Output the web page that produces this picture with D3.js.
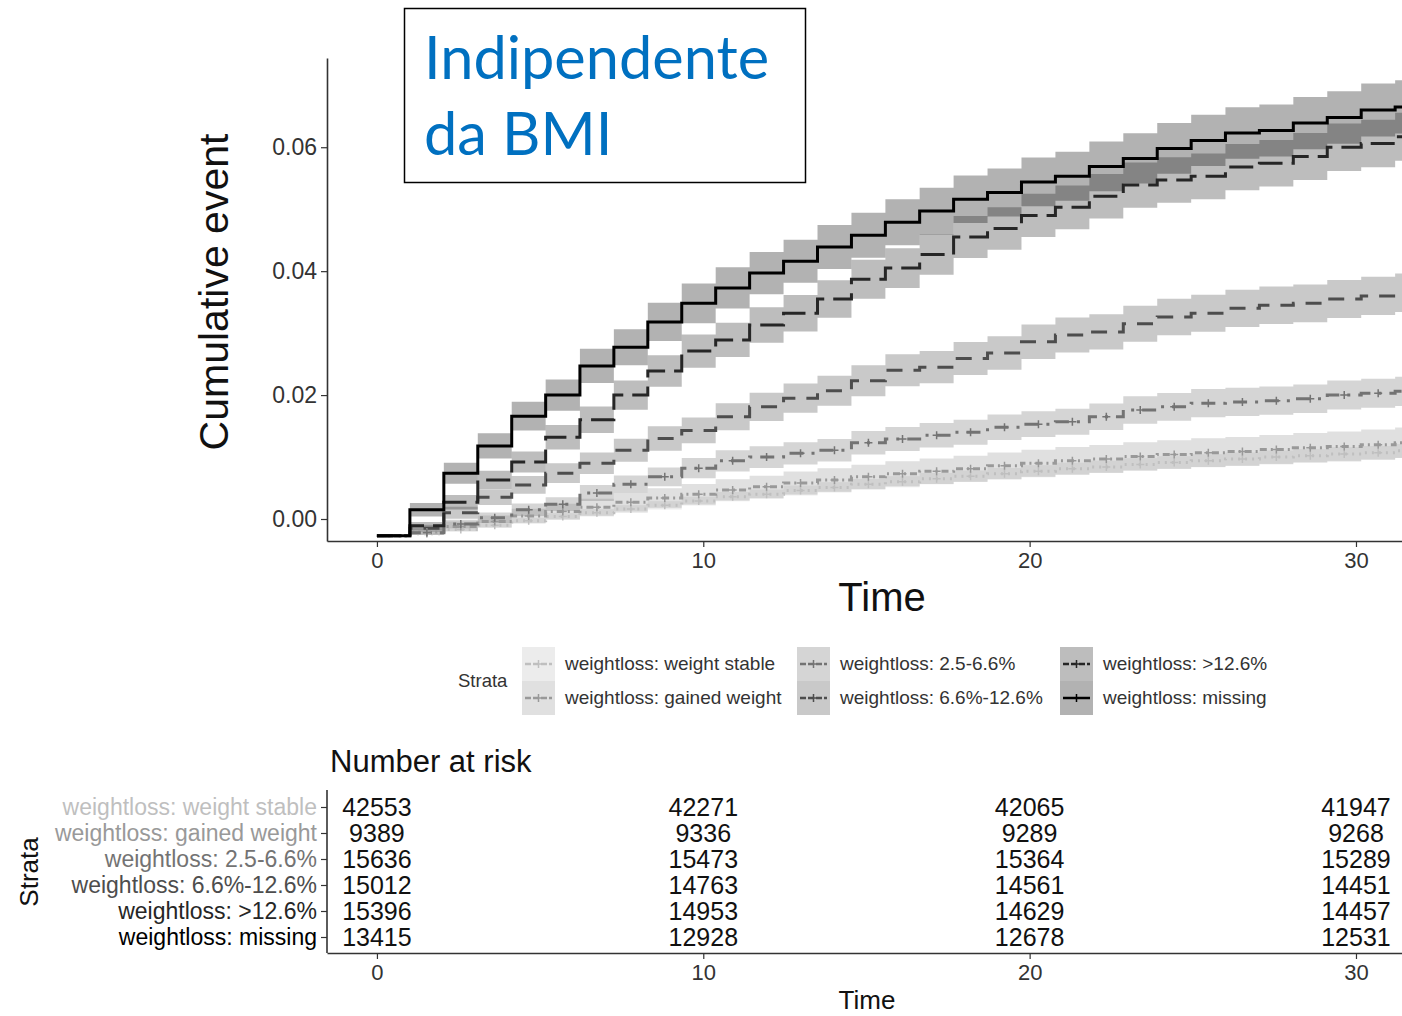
<!DOCTYPE html>
<html>
<head>
<meta charset="utf-8">
<script src="https://cdn.jsdelivr.net/npm/d3@7"></script>
<style>
  body { margin: 0; background: #fff; }
  text { font-family: "Liberation Sans", Arial, sans-serif; }
</style>
</head>
<body>
<svg id="chart" width="1402" height="1016"></svg>
<script>
// strata, in the order of the risk table
const strata = [
    "weightloss: weight stable",
    "weightloss: gained weight",
    "weightloss: 2.5-6.6%",
    "weightloss: 6.6%-12.6%",
    "weightloss: >12.6%",
    "weightloss: missing"
];

const stepTimes = [0, 1.01, 2.05, 3.09, 4.13, 5.17, 6.22, 7.26, 8.30, 9.34, 10.38, 11.42, 12.46, 13.50,
    14.54, 15.58, 16.63, 17.67, 18.71, 19.75, 20.79, 21.83, 22.87, 23.91, 24.95, 26.00, 27.04,
    28.08, 29.12, 30.16, 31.20];
const endTime = 32.5;

// cumulative event, one value per step
const stableVals = [-0.0027, -0.0024, -0.0017, -0.0010, -0.0003, 0.0004, 0.0010, 0.0016, 0.0022, 0.0029,
    0.0036, 0.0040, 0.0046, 0.0051, 0.0056, 0.0060, 0.0065, 0.0069, 0.0073, 0.0077, 0.0081, 0.0084,
    0.0088, 0.0091, 0.0094, 0.0097, 0.0100, 0.0102, 0.0105, 0.0107, 0.0110];
const gainedVals = [-0.0027, -0.0021, -0.0012, -0.0004, 0.0005, 0.0012, 0.0019, 0.0027, 0.0034, 0.0040,
    0.0047, 0.0052, 0.0058, 0.0063, 0.0068, 0.0073, 0.0077, 0.0081, 0.0086, 0.0090, 0.0094, 0.0097,
    0.0101, 0.0104, 0.0107, 0.0109, 0.0112, 0.0115, 0.0117, 0.0120, 0.0123];
const lowVals = [-0.0027, -0.0022, -0.0008, 0.0002, 0.0015, 0.0024, 0.0042, 0.0056, 0.0068, 0.0082,
    0.0094, 0.0100, 0.0106, 0.0111, 0.0123, 0.0129, 0.0135, 0.0140, 0.0148, 0.0153, 0.0157, 0.0165,
    0.0176, 0.0181, 0.0187, 0.0189, 0.0191, 0.0194, 0.0200, 0.0203, 0.0206];
const midVals = [-0.0027, -0.0015, 0.0010, 0.0035, 0.0055, 0.0074, 0.0090, 0.0111, 0.0130, 0.0143,
    0.0165, 0.0181, 0.0195, 0.0207, 0.0223, 0.0240, 0.0245, 0.0259, 0.0268, 0.0286, 0.0297, 0.0302,
    0.0315, 0.0326, 0.0332, 0.0340, 0.0345, 0.0348, 0.0355, 0.0360, 0.0365];
const highVals = [-0.0027, -0.0011, 0.0027, 0.0063, 0.0092, 0.0132, 0.0160, 0.0200, 0.0239, 0.0271,
    0.0289, 0.0313, 0.0332, 0.0355, 0.0387, 0.0405, 0.0427, 0.0455, 0.0469, 0.0490, 0.0503, 0.0521,
    0.0539, 0.0547, 0.0553, 0.0568, 0.0574, 0.0585, 0.0600, 0.0606, 0.0617];
const missingVals = [-0.0027, 0.0015, 0.0074, 0.0118, 0.0166, 0.0200, 0.0247, 0.0277, 0.0318, 0.0348,
    0.0373, 0.0397, 0.0416, 0.0439, 0.0458, 0.0479, 0.0497, 0.0516, 0.0527, 0.0544, 0.0553, 0.0569,
    0.0582, 0.0598, 0.0611, 0.0623, 0.0627, 0.0639, 0.0648, 0.0660, 0.0665];

// number at risk table
const riskTimes = [0, 10, 20, 30];
const stableRisk = [42553, 42271, 42065, 41947];
const gainedRisk = [9389, 9336, 9289, 9268];
const lowRisk = [15636, 15473, 15364, 15289];
const midRisk = [15012, 14763, 14561, 14451];
const highRisk = [15396, 14953, 14629, 14457];
const missingRisk = [13415, 12928, 12678, 12531];

const yTicks = [0, 0.02, 0.04, 0.06];
const xTicks = [0, 10, 20, 30];

const colors = ["#bfbfbf", "#999999", "#737373", "#4d4d4d", "#262626", "#000000"];
const dashes = ["2,5", "7,4,2,4", "14,8,3,8", "16,11", "24,9", null];

const series = strata.map((name, i) => ({
    name,
    color: colors[i],
    dash: dashes[i],
    values: [stableVals, gainedVals, lowVals, midVals, highVals, missingVals][i],
    risk: [stableRisk, gainedRisk, lowRisk, midRisk, highRisk, missingRisk][i]
}));

const svg = d3.select("#chart");
const plot = { left: 327, right: 1402, top: 58, bottom: 541 };

const x = d3.scaleLinear().domain([-1.53, 31.41]).range([plot.left, plot.right]);
const y = d3.scaleLinear().domain([-0.00355, 0.0744]).range([plot.bottom, plot.top]);

// step points, with 95% band from the binomial error on the number at risk
const toPoints = s => {
    const base = s.values[0];
    const n = s.risk[0];
    const pts = s.values.map((v, k) => {
        const f = Math.max(v - base, 0);
        const half = 1.96 * Math.sqrt(f * (1 - f) / n);
        return { t: stepTimes[k], v, lo: v - half, hi: v + half };
    });
    const last = pts[pts.length - 1];
    pts.push({ ...last, t: endTime });
    return pts;
};

svg.append("clipPath").attr("id", "clip")
    .append("rect")
    .attr("x", plot.left).attr("y", plot.top)
    .attr("width", plot.right - plot.left).attr("height", plot.bottom - plot.top);

const area = d3.area()
    .curve(d3.curveStepAfter)
    .x(d => x(d.t))
    .y0(d => y(d.lo))
    .y1(d => y(d.hi));

const line = d3.line()
    .curve(d3.curveStepAfter)
    .x(d => x(d.t))
    .y(d => y(d.v));

const curves = svg.append("g").attr("clip-path", "url(#clip)");

curves.selectAll("path.band")
    .data(series)
    .join("path")
    .attr("class", "band")
    .attr("d", d => area(toPoints(d)))
    .attr("fill", d => d.color)
    .attr("fill-opacity", 0.3);

curves.selectAll("path.curve")
    .data(series)
    .join("path")
    .attr("class", "curve")
    .attr("d", d => line(toPoints(d)))
    .attr("fill", "none")
    .attr("stroke", d => d.color)
    .attr("stroke-width", 3)
    .attr("stroke-dasharray", d => d.dash);

// censor marks in the middle of each step (only visible on the lower curves)
const cross = "M-4,0H4M0,-4V4";
series.slice(0, 3).forEach(s => {
    const pts = toPoints(s).slice(1, -1);
    curves.append("g")
        .selectAll("path")
        .data(pts.slice(0, -1).map((p, i) => ({ t: (p.t + pts[i + 1].t) / 2, v: p.v })))
        .join("path")
        .attr("transform", d => `translate(${x(d.t)},${y(d.v)})`)
        .attr("d", cross)
        .attr("stroke", s.color)
        .attr("stroke-width", 1.5);
});

// axes
const styleAxis = (g, size) => {
    g.select(".domain").attr("stroke", "#333").attr("stroke-width", 1.6);
    g.selectAll(".tick line").attr("stroke", "#333").attr("stroke-width", 1.2);
    g.selectAll(".tick text").attr("font-size", size).attr("fill", "#333")
        .attr("font-family", '"Liberation Sans", Arial, sans-serif');
};

svg.append("g")
    .attr("transform", `translate(${plot.left},0)`)
    .call(d3.axisLeft(y).tickValues(yTicks).tickFormat(d3.format(".2f")).tickSize(6).tickSizeOuter(0).tickPadding(4))
    .call(g => styleAxis(g, 23));

svg.append("g")
    .attr("transform", `translate(0,${plot.bottom})`)
    .call(d3.axisBottom(x).tickValues(xTicks).tickSize(6).tickSizeOuter(0).tickPadding(5))
    .call(g => styleAxis(g, 22));

svg.append("text")
    .attr("transform", "translate(228,292) rotate(-90)")
    .attr("text-anchor", "middle")
    .attr("font-size", 41)
    .attr("fill", "#111")
    .text("Cumulative event");

svg.append("text")
    .attr("x", 882).attr("y", 611)
    .attr("text-anchor", "middle")
    .attr("font-size", 40)
    .attr("fill", "#111")
    .text("Time");

// title box
svg.append("rect")
    .attr("x", 404.5).attr("y", 8.5)
    .attr("width", 401).attr("height", 174)
    .attr("fill", "#fff")
    .attr("stroke", "#000")
    .attr("stroke-width", 1.5);

const titleText = svg.append("text")
    .attr("font-size", 59.5)
    .attr("fill", "#0070c0")
    .style("font-family", "Lato, 'Open Sans', sans-serif");
titleText.append("tspan").attr("x", 424).attr("y", 79).text("Indipendente");
titleText.append("tspan").attr("x", 424).attr("y", 155).text("da BMI");

// legend
const legend = svg.append("g");
legend.append("text")
    .attr("x", 458).attr("y", 687)
    .attr("font-size", 18.5)
    .attr("fill", "#333")
    .text("Strata");

const keyCols = [522, 797, 1060];
const keyRows = [647, 681];
const key = legend.selectAll("g.key")
    .data(series)
    .join("g")
    .attr("class", "key")
    .attr("transform", (d, i) => `translate(${keyCols[Math.floor(i / 2)]},${keyRows[i % 2]})`);

key.append("rect")
    .attr("width", 33).attr("height", 34)
    .attr("fill", d => d.color)
    .attr("fill-opacity", 0.3);
key.append("line")
    .attr("x1", 3).attr("x2", 30).attr("y1", 17).attr("y2", 17)
    .attr("stroke", d => d.color)
    .attr("stroke-width", 2.5)
    .attr("stroke-dasharray", d => d.dash ? "6,2" : null);
key.append("path")
    .attr("transform", "translate(16.5,17)")
    .attr("d", cross)
    .attr("stroke", d => d.color)
    .attr("stroke-width", 1.5);
key.append("text")
    .attr("x", 43).attr("y", 23)
    .attr("font-size", 19)
    .attr("fill", "#333")
    .text(d => d.name);

// number at risk table
const rt = { top: 790, bottom: 953 };
const ry = d3.scalePoint().domain(strata).range([807, 937]);

svg.append("text")
    .attr("x", 330).attr("y", 772)
    .attr("font-size", 31)
    .attr("fill", "#111")
    .text("Number at risk");

const yRisk = svg.append("g")
    .attr("transform", `translate(${plot.left},0)`)
    .call(d3.axisLeft(ry).tickSize(6).tickSizeOuter(0).tickPadding(4))
    .call(g => styleAxis(g, 23));
yRisk.select(".domain").attr("d", `M0,${rt.top}V${rt.bottom}`);
yRisk.selectAll(".tick text").attr("fill", (d, i) => colors[i]);

svg.append("g")
    .attr("transform", `translate(0,${rt.bottom})`)
    .call(d3.axisBottom(x).tickValues(xTicks).tickSize(6).tickSizeOuter(0).tickPadding(5))
    .call(g => styleAxis(g, 22));

series.forEach(s => {
    svg.append("g")
        .selectAll("text")
        .data(riskTimes.map((t, i) => ({ t, n: s.risk[i] })))
        .join("text")
        .attr("x", d => x(d.t))
        .attr("y", ry(s.name))
        .attr("dy", "0.36em")
        .attr("text-anchor", "middle")
        .attr("font-size", 25)
        .attr("fill", "#111")
        .text(d => d.n);
});

svg.append("text")
    .attr("x", 867).attr("y", 1009)
    .attr("text-anchor", "middle")
    .attr("font-size", 26)
    .attr("fill", "#111")
    .text("Time");

svg.append("text")
    .attr("transform", "translate(38,872) rotate(-90)")
    .attr("text-anchor", "middle")
    .attr("font-size", 26)
    .attr("fill", "#111")
    .text("Strata");
</script>
</body>
</html>
